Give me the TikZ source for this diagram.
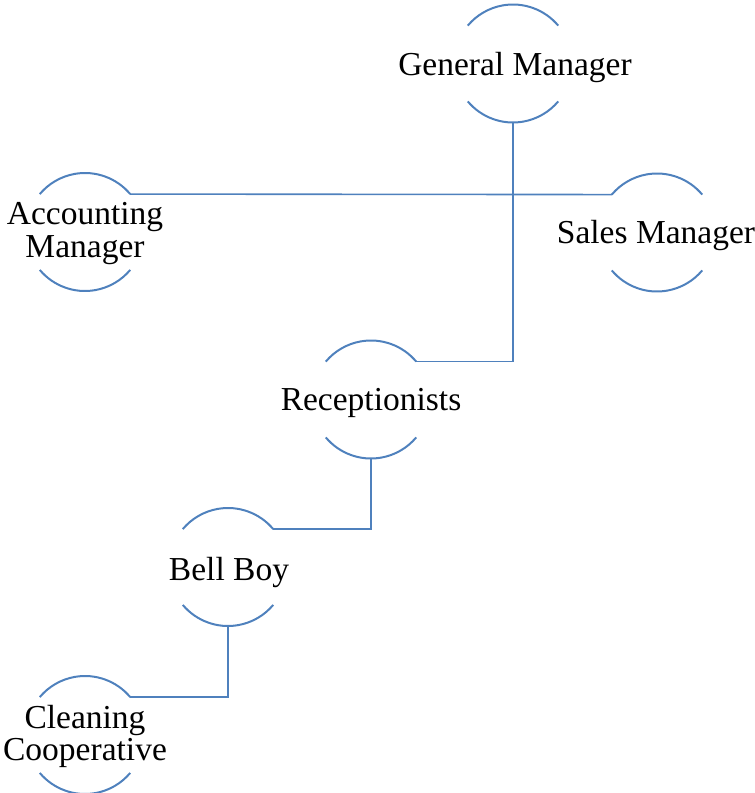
\documentclass[tikz,border=0pt]{standalone}
\usepackage{fontspec}
\setmainfont{Liberation Serif}
\definecolor{arcblue}{RGB}{79,129,189}
\tikzset{
  orgnode/.style={circle, minimum size=118pt, inner sep=0pt, outer sep=0pt, draw=none},
  lbl/.style={font=\fontsize{33.5}{32.5}\selectfont, align=center, text=black, inner sep=0pt},
  arcline/.style={draw=arcblue, line width=2pt},
  conn/.style={draw=arcblue, line width=1.6pt},
}
\newcommand{\orgarcs}[1]{%
  \draw[arcline] (#1.40) arc[start angle=40, end angle=140, radius=59pt];
  \draw[arcline] (#1.220) arc[start angle=220, end angle=320, radius=59pt];
}
\begin{document}
\begin{tikzpicture}[x=1pt,y=-1pt]
\useasboundingbox (0,0) rectangle (755,793);
\node[orgnode] (gm) at (513,63.5) {};
\node[orgnode] (ac) at (85,232) {};
\node[orgnode] (sm) at (657,232.5) {};
\node[orgnode] (rec) at (371,399.5) {};
\node[orgnode] (bb) at (228,567) {};
\node[orgnode] (cc) at (85,735) {};
\orgarcs{gm}\orgarcs{ac}\orgarcs{sm}\orgarcs{rec}\orgarcs{bb}\orgarcs{cc}
\node[lbl] (gmt) at (515,67) {General Manager};
\node[lbl] (act) at (85,233.5) {Accounting\\Manager};
\node[lbl] (smt) at (656,235) {Sales Manager};
\node[lbl] (rect) at (371,403) {Receptionists};
\node[lbl] (bbt) at (229,572) {Bell Boy};
\node[lbl] (cct) at (85,736.5) {Cleaning\\Cooperative};
\draw[conn] (ac.40) -- (sm.140);
\draw[conn] (gm.south) |- (rec.40);
\draw[conn] (rec.south) |- (bb.40);
\draw[conn] (bb.south) |- (cc.40);
\end{tikzpicture}
\end{document}
